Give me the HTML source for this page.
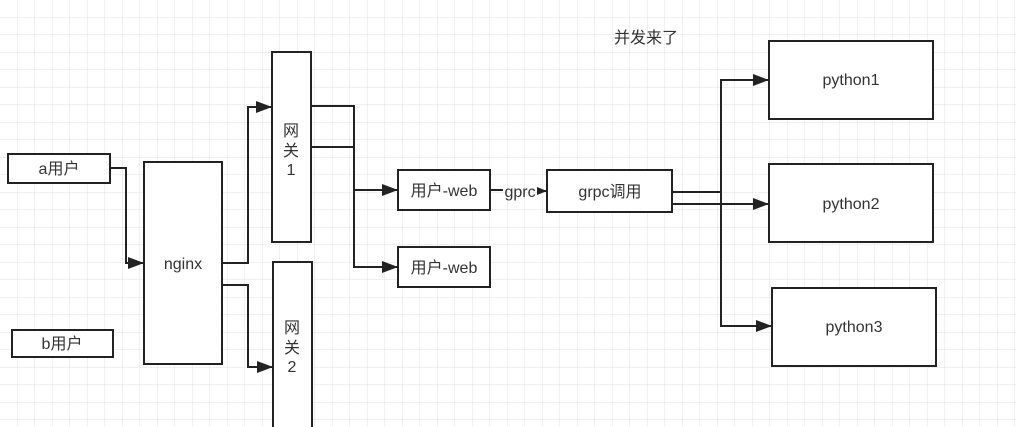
<!DOCTYPE html>
<html><head><meta charset="utf-8"><style>
html,body{margin:0;padding:0;background:#fff;}
svg{display:block;}
text{font-family:"Liberation Sans","Noto Sans CJK SC",sans-serif;fill:#333;font-size:16px;}
</style></head><body>
<svg width="1016" height="427" viewBox="0 0 1016 427" xmlns="http://www.w3.org/2000/svg">
<defs>
<pattern id="g" x="0" y="0" width="17.5" height="17.5" patternUnits="userSpaceOnUse">
<path d="M17.5 0V17.5M0 17.5H17.5" stroke="#e2e2e2" stroke-width="1" fill="none"/>
</pattern>
<marker id="a" markerWidth="10" markerHeight="8" refX="10" refY="4" orient="auto" markerUnits="userSpaceOnUse">
<path d="M0,0 L10,4 L0,8 Z" fill="#222"/>
</marker>
<marker id="b" markerWidth="16" markerHeight="12" refX="16" refY="6" orient="auto" markerUnits="userSpaceOnUse">
<path d="M0,0 L16,6 L0,12 Z" fill="#222"/>
</marker>
</defs>
<rect width="1016" height="427" fill="url(#g)"/>
<g fill="#fff" stroke="#222" stroke-width="2">
<rect x="8" y="154" width="102" height="29"/>
<rect x="12" y="330" width="101" height="27"/>
<rect x="144" y="162" width="78" height="202"/>
<rect x="272" y="52" width="39" height="190"/>
<rect x="273" y="262" width="39" height="170"/>
<rect x="398" y="170" width="92" height="40"/>
<rect x="398" y="247" width="92" height="40"/>
<rect x="547" y="170" width="125" height="42"/>
<rect x="769" y="41" width="164" height="78"/>
<rect x="769" y="164" width="164" height="78"/>
<rect x="772" y="288" width="164" height="78"/>
</g>
<g fill="none" stroke="#222" stroke-width="2">
<path d="M110 168H126V263H144" marker-end="url(#b)"/>
<path d="M222 263H248V107H272" marker-end="url(#b)"/>
<path d="M222 285H248V367H273" marker-end="url(#b)"/>
<path d="M311 106H354V190H398" marker-end="url(#b)"/>
<path d="M311 147H354V267H398" marker-end="url(#b)"/>
<path d="M490 190H503"/>
<path d="M537 191H547" marker-end="url(#a)"/>
<path d="M672 192H721"/>
<path d="M672 204H769" marker-end="url(#b)"/>
<path d="M721 326V80H769" marker-end="url(#b)"/>
<path d="M721 200V326H772" marker-end="url(#b)"/>
</g>
<text x="59" y="174" text-anchor="middle">a用户</text>
<text x="62" y="349" text-anchor="middle">b用户</text>
<text x="183" y="269" text-anchor="middle">nginx</text>
<text x="291" y="136" text-anchor="middle">网</text>
<text x="291" y="156" text-anchor="middle">关</text>
<text x="291" y="175" text-anchor="middle">1</text>
<text x="292" y="333" text-anchor="middle">网</text>
<text x="292" y="353" text-anchor="middle">关</text>
<text x="292" y="372" text-anchor="middle">2</text>
<text x="444" y="196" text-anchor="middle">用户-web</text>
<text x="444" y="273" text-anchor="middle">用户-web</text>
<text x="520" y="197" text-anchor="middle">gprc</text>
<text x="610" y="197" text-anchor="middle">grpc调用</text>
<text x="851" y="85" text-anchor="middle">python1</text>
<text x="851" y="209" text-anchor="middle">python2</text>
<text x="854" y="332" text-anchor="middle">python3</text>
<text x="614" y="43">并发来了</text>
</svg>
</body></html>
